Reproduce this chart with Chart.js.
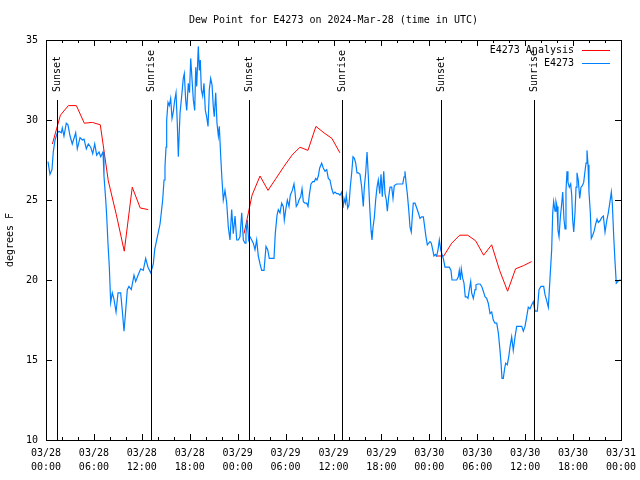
<!DOCTYPE html>
<html>
<head>
<meta charset="utf-8">
<script src="https://cdn.jsdelivr.net/npm/chart.js@4.4.1/dist/chart.umd.min.js"></script>
<style>
    html, body { margin: 0; padding: 0; background: #fff; }
</style>
</head>
<body>
<canvas id="chart" width="640" height="480"></canvas>
<script>
(() => {
    // hours since 03/28 00:00 UTC
    const xTickLabels = [
        ['03/28', '00:00'], ['03/28', '06:00'], ['03/28', '12:00'], ['03/28', '18:00'],
        ['03/29', '00:00'], ['03/29', '06:00'], ['03/29', '12:00'], ['03/29', '18:00'],
        ['03/30', '00:00'], ['03/30', '06:00'], ['03/30', '12:00'], ['03/30', '18:00'],
        ['03/31', '00:00'],
    ];

    const sunHours = [1.41, 13.19, 25.46, 37.10, 49.50, 61.14];
    const sunLabels = ['Sunset', 'Sunrise', 'Sunset', 'Sunrise', 'Sunset', 'Sunrise'];

    // analysis, three runs separated by gaps (null)
    const analysisHours = [
        0.8, 1.8, 2.8, 3.8, 4.8, 5.8, 6.8, 7.8, 8.8, 9.8, 10.8, 11.8, 12.8,
        18.8,
        24.8, 25.8, 26.8, 27.8, 28.8, 29.8, 30.8, 31.8, 32.8, 33.8, 34.8, 35.8, 36.8,
        42.8,
        48.8, 49.8, 50.8, 51.8, 52.8, 53.8, 54.8, 55.8, 56.8, 57.8, 58.8, 59.8, 60.8,
    ];
    const analysisValues = [
        28.5, 30.3, 30.9, 30.9, 29.8, 29.85, 29.7, 26.2, 24.1, 21.8, 25.8, 24.5, 24.4,
        null,
        22.9, 25.3, 26.5, 25.6, 26.35, 27.1, 27.8, 28.3, 28.1, 29.6, 29.2, 28.85, 27.95,
        null,
        21.5, 21.5, 22.3, 22.8, 22.8, 22.45, 21.55, 22.2, 20.6, 19.3, 20.7, 20.9, 21.15,
    ];

    const obsHours = [
        0.25, 0.50, 0.75, 0.91, 1.13, 1.42, 1.63, 1.92, 2.04, 2.25, 2.54, 2.75, 3.01, 3.29, 3.72, 3.92,
        4.26, 4.55, 4.76, 5.05, 5.30, 5.60, 5.85, 6.10, 6.35, 6.64, 6.85, 7.14, 7.26, 7.48, 7.60, 7.76,
        7.93, 8.10, 8.30, 8.51, 8.77, 9.02, 9.35, 9.55, 9.77, 9.98, 10.18, 10.39, 10.68, 11.02, 11.23, 11.52,
        11.86, 12.18, 12.48, 12.77, 13.11, 13.44, 13.61, 13.94, 14.28, 14.61, 14.78, 14.90, 15.03, 15.11, 15.28, 15.44,
        15.61, 15.78, 15.94, 16.12, 16.28, 16.44, 16.57, 16.78, 16.99, 17.19, 17.32, 17.49, 17.62, 17.82, 17.97, 18.12,
        18.24, 18.45, 18.62, 18.75, 18.87, 19.07, 19.20, 19.32, 19.45, 19.62, 19.78, 19.95, 20.12, 20.29, 20.45, 20.62,
        20.79, 20.95, 21.07, 21.25, 21.41, 21.58, 21.70, 21.88, 22.04, 22.20, 22.41, 22.63, 22.83, 23.04, 23.25, 23.45,
        23.67, 23.88, 24.08, 24.29, 24.51, 24.71, 24.92, 25.04, 25.21, 25.38, 25.54, 25.76, 25.96, 26.17, 26.38, 26.58,
        26.80, 27.01, 27.30, 27.55, 27.76, 27.96, 28.26, 28.55, 28.71, 28.93, 29.09, 29.30, 29.51, 29.71, 29.84, 30.02,
        30.22, 30.43, 30.59, 30.84, 31.05, 31.18, 31.34, 31.52, 31.68, 31.89, 32.06, 32.22, 32.43, 32.64, 32.81, 32.97,
        33.18, 33.40, 33.60, 33.77, 33.93, 34.10, 34.27, 34.52, 34.72, 34.94, 35.15, 35.35, 35.56, 35.78, 35.98, 36.19,
        36.40, 36.60, 36.81, 37.03, 37.19, 37.32, 37.48, 37.60, 37.78, 37.94, 38.10, 38.28, 38.44, 38.61, 38.78, 38.94,
        39.11, 39.32, 39.53, 39.73, 39.86, 40.03, 40.20, 40.36, 40.53, 40.70, 40.82, 40.95, 41.11, 41.28, 41.45, 41.61,
        41.79, 41.95, 42.11, 42.29, 42.45, 42.61, 42.74, 42.91, 43.08, 43.29, 43.45, 43.61, 43.91, 44.33, 44.67, 44.83,
        44.95, 45.08, 45.24, 45.42, 45.58, 45.74, 45.87, 45.99, 46.21, 46.42, 46.62, 46.83, 47.04, 47.25, 47.42, 47.58,
        47.75, 47.92, 48.08, 48.25, 48.42, 48.58, 48.75, 48.92, 49.09, 49.25, 49.42, 49.59, 49.75, 49.96, 50.18, 50.50,
        50.71, 50.84, 51.09, 51.43, 51.63, 51.75, 51.88, 52.00, 52.18, 52.34, 52.50, 52.68, 52.84, 53.01, 53.18, 53.30,
        53.51, 53.72, 53.84, 54.06, 54.35, 54.56, 54.76, 54.97, 55.18, 55.38, 55.60, 55.81, 56.01, 56.22, 56.44, 56.64,
        56.85, 56.98, 57.10, 57.26, 57.44, 57.56, 57.76, 57.94, 58.10, 58.31, 58.51, 58.73, 58.94, 59.27, 59.57, 59.77,
        59.98, 60.19, 60.39, 60.61, 60.82, 61.02, 61.23, 61.52, 61.73, 61.98, 62.32, 62.48, 62.70, 62.90, 63.11, 63.32,
        63.45, 63.57, 63.74, 63.86, 63.99, 64.11, 64.24, 64.40, 64.58, 64.70, 64.86, 64.99, 65.11, 65.24, 65.36, 65.53,
        65.70, 65.83, 65.95, 66.08, 66.24, 66.37, 66.49, 66.65, 66.83, 66.99, 67.16, 67.33, 67.49, 67.62, 67.74, 67.87,
        67.99, 68.16, 68.28, 68.46, 68.66, 68.83, 69.00, 69.16, 69.37, 69.58, 69.79, 70.00, 70.21, 70.41, 70.62, 70.79,
        70.91, 71.09, 71.25, 71.41, 71.58, 71.83, 71.95,
    ];
    const obsValues = [
        27.4, 26.6, 26.9, 28.0, 28.75, 29.2, 29.3, 29.2, 29.5, 29.0, 29.8, 29.7, 29.0, 28.5, 29.2, 28.2,
        28.9, 28.75, 28.8, 28.2, 28.5, 28.3, 27.9, 28.5, 27.8, 28.0, 27.7, 28.0, 26.5, 25.0, 24.0, 22.3,
        20.8, 18.6, 19.2, 18.8, 18.0, 19.2, 19.2, 18.1, 16.8, 18.1, 19.4, 19.6, 19.4, 20.3, 19.9, 20.3,
        20.7, 20.6, 21.35, 20.8, 20.45, 21.0, 21.9, 22.7, 23.5, 25.0, 26.25, 27.1, 28.3, 30.0, 31.1, 30.9,
        31.35, 30.1, 30.5, 31.25, 31.7, 29.8, 27.7, 30.4, 31.5, 32.6, 32.9, 31.25, 30.6, 32.3, 31.7, 33.85,
        32.9, 31.25, 30.6, 33.3, 32.1, 34.6, 33.1, 33.75, 31.9, 31.5, 32.3, 30.6, 30.2, 29.6, 31.9, 32.6,
        32.2, 30.8, 30.2, 31.7, 29.8, 29.0, 29.6, 27.7, 26.25, 25.0, 25.6, 24.8, 23.3, 22.5, 24.4, 22.9,
        24.0, 22.5, 22.5, 22.7, 24.2, 22.5, 22.3, 22.9, 23.75, 22.5, 22.7, 22.5, 22.3, 21.9, 22.5, 21.5,
        21.0, 20.6, 20.6, 22.1, 21.9, 21.35, 21.35, 21.35, 22.9, 24.05, 24.4, 24.2, 24.8, 24.6, 23.75, 24.4,
        25.0, 24.6, 25.3, 25.6, 26.0, 25.5, 24.6, 24.75, 25.0, 25.2, 25.7, 24.9, 24.8, 24.8, 24.6, 25.3,
        26.0, 26.15, 26.15, 26.35, 26.25, 26.5, 27.0, 27.3, 27.0, 26.8, 26.9, 26.35, 26.25, 25.7, 25.4, 25.5,
        25.4, 25.4, 25.3, 25.5, 24.5, 25.1, 24.8, 25.3, 24.5, 24.7, 25.8, 26.7, 27.7, 27.6, 27.3, 26.7,
        26.7, 26.6, 25.8, 24.6, 25.8, 26.7, 28.0, 26.5, 24.6, 23.1, 22.5, 23.3, 23.9, 25.0, 25.8, 26.25,
        25.4, 26.6, 25.2, 26.8, 25.4, 25.0, 24.3, 25.2, 25.8, 25.8, 25.1, 25.9, 26.0, 26.0, 26.0, 26.45,
        26.8, 26.1, 25.4, 24.4, 23.3, 23.0, 24.0, 24.8, 24.8, 24.5, 24.2, 23.85, 23.95, 23.95, 23.3, 22.7,
        22.2, 22.3, 22.4, 22.3, 21.9, 21.5, 21.6, 21.5, 21.9, 22.5, 21.9, 21.6, 21.35, 20.8, 20.8, 20.8,
        20.6, 20.0, 20.0, 20.0, 20.2, 20.6, 20.0, 20.7, 20.1, 19.8, 18.95, 18.95, 18.85, 19.4, 19.9, 19.2,
        18.85, 19.4, 19.7, 19.75, 19.75, 19.6, 19.3, 18.95, 18.85, 18.55, 17.9, 18.0, 17.5, 17.3, 17.3, 16.7,
        15.6, 14.8, 13.85, 13.85, 14.5, 14.8, 14.7, 15.2, 15.8, 16.45, 15.6, 16.45, 17.1, 17.1, 17.1, 16.8,
        17.1, 17.7, 18.3, 18.2, 18.45, 18.65, 18.05, 18.05, 19.4, 19.6, 19.6, 19.1, 18.7, 18.3, 20.1, 21.9,
        24.2, 24.9, 24.3, 24.9, 24.6, 23.1, 22.7, 23.9, 24.8, 25.5, 23.8, 23.2, 25.6, 26.8, 26.1, 25.8,
        26.0, 25.3, 23.75, 23.0, 24.2, 25.8, 26.7, 26.25, 25.1, 25.8, 25.9, 26.1, 26.8, 27.3, 28.1, 27.2,
        25.5, 24.2, 22.6, 22.8, 23.1, 23.5, 23.8, 23.6, 23.7, 23.9, 24.0, 23.0, 23.7, 24.2, 24.9, 25.5,
        24.8, 22.7, 21.15, 19.8, 19.9, 20.0, 20.0,
    ];

    const FONT = '"DejaVu Sans Mono", monospace';
    Chart.defaults.font.family = FONT;
    Chart.defaults.font.size = 10;
    Chart.defaults.color = '#000';

    const toPoints = (xs, ys) => xs.map((h, i) => ({ x: h, y: ys[i] }));

    // gnuplot-like frame: border, inward ticks, sun markers, legend
    const frame = {
        id: 'frame',
        afterDatasetsDraw(chart) {
            const { ctx, chartArea: a, scales: { x, y } } = chart;
            const line = (x1, y1, x2, y2) => {
                ctx.beginPath();
                ctx.moveTo(x1, y1);
                ctx.lineTo(x2, y2);
                ctx.stroke();
            };

            ctx.save();
            ctx.strokeStyle = '#000';
            ctx.fillStyle = '#000';
            ctx.lineWidth = 1;
            ctx.font = `10px ${FONT}`;

            sunHours.forEach((h, i) => {
                const px = Math.round(x.getPixelForValue(h)) + 0.5;
                line(px, a.top + 60, px, a.bottom);
                ctx.save();
                ctx.translate(px, a.top + 52);
                ctx.rotate(-Math.PI / 2);
                ctx.textAlign = 'left';
                ctx.textBaseline = 'middle';
                ctx.fillText(sunLabels[i], 0, 0);
                ctx.restore();
            });

            for (let h = x.min; h <= x.max; h += 2) {
                const px = Math.round(x.getPixelForValue(h)) + 0.5;
                const len = h % 6 === 0 ? 6 : 3;
                line(px, a.bottom, px, a.bottom - len);
                line(px, a.top, px, a.top + len);
            }

            y.ticks.forEach((t) => {
                const py = Math.round(y.getPixelForValue(t.value)) + 0.5;
                line(a.left, py, a.left + 6, py);
                line(a.right, py, a.right - 6, py);
            });

            ctx.strokeRect(Math.round(a.left) + 0.5, Math.round(a.top) + 0.5,
                Math.round(a.right - a.left), Math.round(a.bottom - a.top));

            chart.data.datasets.forEach((ds, i) => {
                const ly = Math.round(a.top + 10 + i * 12.5) + 0.5;
                ctx.textAlign = 'right';
                ctx.textBaseline = 'middle';
                ctx.fillStyle = '#000';
                ctx.fillText(ds.label, a.right - 47, ly);
                ctx.strokeStyle = ds.borderColor;
                line(a.right - 39, ly, a.right - 11, ly);
            });

            ctx.restore();
        },
    };

    new Chart(document.getElementById('chart'), {
        type: 'line',
        data: {
            datasets: [
                {
                    label: 'E4273 Analysis',
                    data: toPoints(analysisHours, analysisValues),
                    borderColor: '#ff0000',
                    borderWidth: 1,
                    pointRadius: 0,
                    tension: 0,
                    spanGaps: false,
                    order: 1,
                },
                {
                    label: 'E4273',
                    data: toPoints(obsHours, obsValues),
                    borderColor: '#0080ff',
                    borderWidth: 1.2,
                    pointRadius: 0,
                    tension: 0,
                    order: 0,
                },
            ],
        },
        options: {
            responsive: false,
            animation: false,
            events: [],
            layout: { padding: { left: 0, right: 19, top: 0, bottom: 0 } },
            plugins: {
                legend: { display: false },
                tooltip: { enabled: false },
                title: {
                    display: true,
                    fullSize: false,
                    text: 'Dew Point for E4273 on 2024-Mar-28 (time in UTC)',
                    color: '#000',
                    font: { family: FONT, size: 10, weight: 'normal', lineHeight: 1.2 },
                    padding: { top: 14, bottom: 14 },
                },
            },
            scales: {
                x: {
                    type: 'linear',
                    min: 0,
                    max: 72,
                    grid: { display: false, drawTicks: false },
                    border: { display: false },
                    ticks: {
                        stepSize: 6,
                        padding: 6,
                        maxRotation: 0,
                        autoSkip: false,
                        font: { family: FONT, size: 10, lineHeight: 1.4 },
                        callback: (v) => xTickLabels[Math.round(v / 6)],
                    },
                    afterFit: (axis) => {
                        axis.height = 40;
                        axis.paddingLeft = 0;
                        axis.paddingRight = 0;
                    },
                },
                y: {
                    min: 10,
                    max: 35,
                    grid: { display: false, drawTicks: false },
                    border: { display: false },
                    ticks: { stepSize: 5, padding: 8, font: { family: FONT, size: 10 } },
                    title: {
                        display: true,
                        text: 'degrees F',
                        font: { family: FONT, size: 10, lineHeight: 1.2 },
                        padding: { top: 4, bottom: 0 },
                    },
                    afterFit: (axis) => { axis.width = 46; },
                },
            },
        },
        plugins: [frame],
    });
})();
</script>
</body>
</html>
